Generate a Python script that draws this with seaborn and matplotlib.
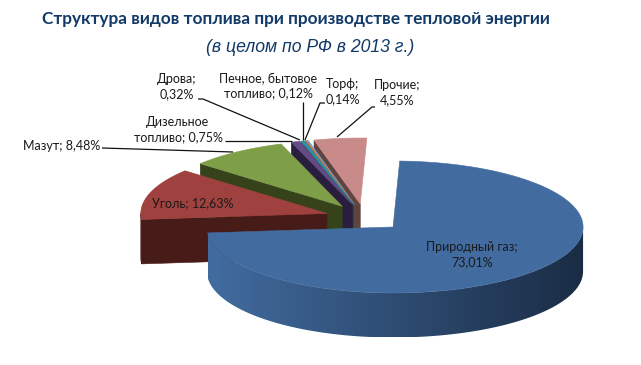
import numpy as np
import matplotlib
matplotlib.use("Agg")
import matplotlib.pyplot as plt
from matplotlib.patches import Polygon
import seaborn as sns

categories = ["Природный газ", "Уголь", "Мазут", "Дизельное топливо", "Дрова",
              "Печное, бытовое топливо", "Торф", "Прочие"]
values = [73.01, 12.63, 8.48, 0.75, 0.32, 0.12, 0.14, 4.55]
top_colors = ["#426C9F", "#9F413E", "#7F9E48", "#654A85", "#2E8FA8", "#D9782B", "#6F9FD0", "#C88B89"]
side_colors = ["#2F4F75", "#471B18", "#35421A", "#2A1E3E", "#14505F", "#7A4010", "#3A5A80", "#5E4340"]

title = "Структура видов топлива при производстве тепловой энергии"
subtitle = "(в целом по РФ в 2013 г.)"

sns.set_theme(style="white")
plt.rcParams["font.family"] = ["Lato", "DejaVu Sans"]

W, H = 641, 365
fig = plt.figure(figsize=(W / 100, H / 100), dpi=100, facecolor="white")
ax = fig.add_axes([0, 0, 1, 1])
ax.axis("off")

CX, CY, RX, RY, EXPLODE, DEPTH, START = 364.5, 217.6, 190.0, 66.0, 0.207, 44.5, 88.0


def rim(apex, t):
    c = np.cos(t)
    return apex[0] + RX * c * np.where(c < 0, 0.98, 1.0), apex[1] - RY * np.sin(t)


def fill(xs, ys, color, z):
    ax.fill(xs, ys, facecolor=color, edgecolor=color, linewidth=0.4, zorder=z)


shares = np.array(values) / np.sum(values) * 360.0
ends = START - np.cumsum(shares)
starts = ends + shares
ramp = sns.blend_palette(["#426C9F", "#1A2C45"], 256, as_cmap=True)

# painter's order: the far wedges first, the large front wedge last
for i in range(len(values) - 1, -1, -1):
    a0, a1 = np.radians(starts[i]), np.radians(ends[i])
    mid = (a0 + a1) / 2
    apex = (CX + EXPLODE * RX * np.cos(mid), CY - EXPLODE * RY * np.sin(mid))
    z = 10 + (len(values) - i) * 3
    # radial faces
    for edge, vis in ((a0, np.cos(a0) < 0), (a1, np.cos(a1) > 0.2)):
        if vis:
            x, y = rim(apex, edge)
            fill([apex[0], x, x, apex[0]], [apex[1], y, y + DEPTH, apex[1] + DEPTH], side_colors[i], z)
    # outer wall
    t = np.linspace(a0, a1, max(3, int(shares[i] * 4)))
    t = t[np.sin(t) < 0.001]
    if len(t) > 1:
        x, y = rim(apex, t)
        if i == 0:
            wall = Polygon(np.c_[np.r_[x, x[::-1]], np.r_[y, y[::-1] + DEPTH]],
                           closed=True, transform=ax.transData, facecolor="none", edgecolor="none")
            ax.add_patch(wall)
            im = ax.imshow(np.linspace(0, 1, 256)[None, :], cmap=ramp, aspect="auto",
                           extent=(x.min(), x.max(), y.max() + DEPTH, y.min()), zorder=z)
            im.set_clip_path(wall)
        else:
            fill(np.r_[x, x[::-1]], np.r_[y, y[::-1] + DEPTH], side_colors[i], z)
    # top surface
    t = np.linspace(a0, a1, max(3, int(shares[i] * 4)))
    x, y = rim(apex, t)
    fill(np.r_[apex[0], x], np.r_[apex[1], y], top_colors[i], z + 1)

ax.set_xlim(0, W)
ax.set_ylim(H, 0)

# leader lines
leaders = [
    ([102, 233], [148, 152]),
    ([225, 292], [141, 141]),
    ([198, 203, 300], [99, 99, 140]),
    ([303, 303], [102, 140]),
    ([325, 320, 305], [103, 103, 140]),
    ([375, 372, 337], [107, 107, 137]),
]
for lx, ly in leaders:
    ax.plot(lx, ly, color="#111111", lw=0.9, zorder=40, solid_capstyle="butt")

labels = [
    (472, 254.5, "Природный газ;\n73,01%"),
    (193, 203, "Уголь; 12,63%"),
    (61.5, 146, "Мазут; 8,48%"),
    (178, 129.5, "Дизельное\nтопливо; 0,75%"),
    (177, 86.5, "Дрова;\n0,32%"),
    (268, 85.5, "Печное, бытовое\nтопливо; 0,12%"),
    (343, 91.5, "Торф;\n0,14%"),
    (397, 92.5, "Прочие;\n4,55%"),
]
for x, y, s in labels:
    ax.text(x, y, s, ha="center", va="center", fontsize=9, color="#1a1a1a",
            linespacing=1.25, zorder=50)

t1 = ax.text(296, 19, title, ha="center", va="center", fontsize=14, fontweight="bold",
             color="#123A68", family=["Lato", "DejaVu Sans"], zorder=50)
fig.canvas.draw()
width = t1.get_window_extent(fig.canvas.get_renderer()).width
t1.set_fontsize(14 * 512 / width)
ax.text(310, 47, subtitle, ha="center", va="center", fontsize=12.7, style="italic",
        color="#123A68", family=["Liberation Sans", "DejaVu Sans"], zorder=50)

fig.savefig("out.png", dpi=100, facecolor="white")
